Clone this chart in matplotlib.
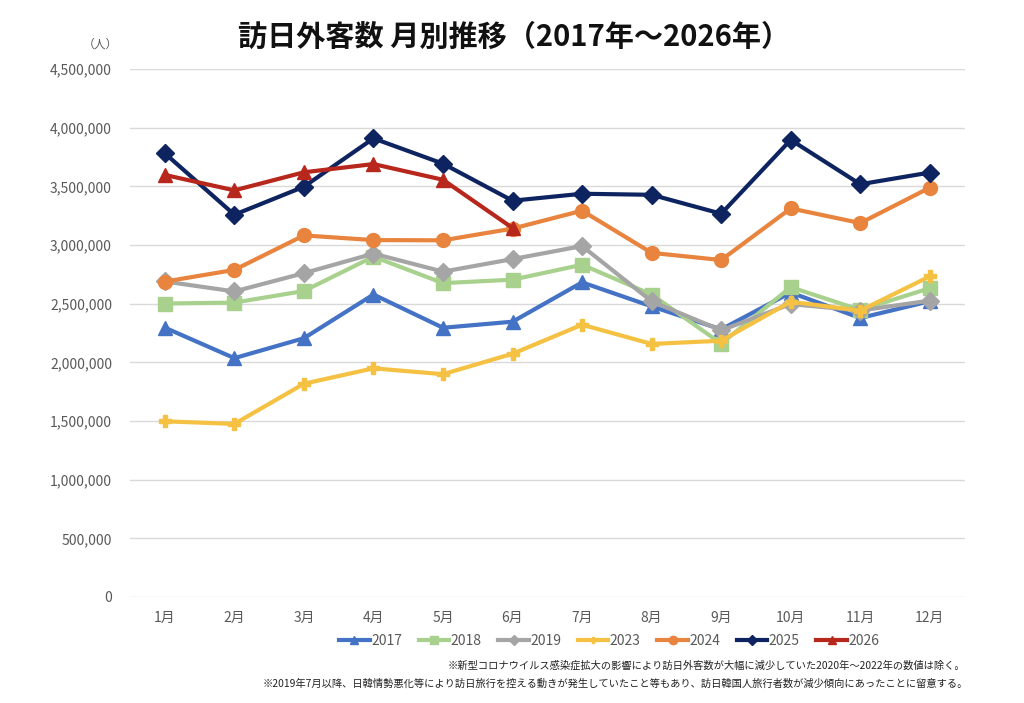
import matplotlib
matplotlib.use("Agg")
import matplotlib.pyplot as plt
from matplotlib.ticker import FuncFormatter, MultipleLocator

plt.rcParams['font.family'] = ['Noto Sans CJK JP', 'DejaVu Sans']

months = ["1月", "2月", "3月", "4月", "5月", "6月",
          "7月", "8月", "9月", "10月", "11月", "12月"]

v2017 = [2295700, 2035800, 2205700, 2578000, 2294700, 2346400,
         2681600, 2477100, 2280900, 2595100, 2377900, 2521000]
v2018 = [2501400, 2509300, 2608000, 2900700, 2675100, 2704600,
         2832000, 2578000, 2159600, 2640600, 2446700, 2632000]
v2019 = [2689300, 2604300, 2760100, 2926700, 2773100, 2880000,
         2991200, 2520100, 2272900, 2496600, 2441300, 2526400]
v2023 = [1497300, 1475300, 1817500, 1949100, 1898900, 2073300,
         2320600, 2156900, 2184300, 2516500, 2440800, 2733000]
v2024 = [2688100, 2788000, 3081800, 3042000, 3040000, 3140000,
         3292500, 2933000, 2872200, 3312200, 3187000, 3489000]
v2025 = [3781600, 3258400, 3497000, 3908900, 3693300, 3377800,
         3437000, 3428000, 3266800, 3896300, 3518000, 3617700]
v2026 = [3597500, 3466000, 3620000, 3690000, 3556000, 3145000]

series = [
    ("2017", v2017, "#4472C4", "^"),
    ("2018", v2018, "#A9D18E", "s"),
    ("2019", v2019, "#A5A5A5", "D"),
    ("2023", v2023, "#F4C142", "P"),
    ("2024", v2024, "#E8843D", "o"),
    ("2025", v2025, "#0E2461", "D"),
    ("2026", v2026, "#B8271C", "^"),
]

fig = plt.figure(figsize=(10.24, 7.03), dpi=100)
ax = fig.add_axes([0.127, 0.1508, 0.815, 0.751])

x = range(len(months))
for name, vals, col, mk in series:
    ms = 10 if mk in ("o", "s", "^") else 9
    if mk == "P":
        ms = 8
    ax.plot(list(x)[:len(vals)], vals, color=col, lw=3, marker=mk,
            ms=ms, mec=col, mfc=col, label=name)

ax.set_xlim(-0.5, 11.5)
ax.set_ylim(0, 4500000)
ax.yaxis.set_major_locator(MultipleLocator(500000))
ax.yaxis.set_major_formatter(FuncFormatter(lambda v, _: f"{int(v):,}"))
ax.set_xticks(list(x))
ax.set_xticklabels(months)
ax.grid(axis="y", color="#d9d9d9", lw=1)
ax.set_axisbelow(True)
for s in ax.spines.values():
    s.set_visible(False)
ax.tick_params(length=0, colors="#595959", labelsize=10, pad=10)
ax.tick_params(axis="y", pad=13)

fig.text(0.502, 0.947, "訪日外客数 月別推移（2017年～2026年）", ha="center",
         va="center", fontsize=21, fontweight="bold", color="#111111")
fig.text(0.098, 0.937, "（人）", ha="center", va="center", fontsize=8.5,
         color="#595959")

leg = fig.legend(loc="center", bbox_to_anchor=(0.595, 0.088), ncol=7,
                 frameon=False, fontsize=10, handlelength=2.2,
                 columnspacing=1.2, handletextpad=0.1, markerscale=0.6)
for t in leg.get_texts():
    t.set_color("#595959")

fig.text(0.943, 0.053, "※新型コロナウイルス感染症拡大の影響により訪日外客数が大幅に減少していた2020年～2022年の数値は除く。",
         ha="right", va="center", fontsize=7.4, color="#222222")
fig.text(0.945, 0.028, "※2019年7月以降、日韓情勢悪化等により訪日旅行を控える動きが発生していたこと等もあり、訪日韓国人旅行者数が減少傾向にあったことに留意する。",
         ha="right", va="center", fontsize=7.4, color="#222222")

fig.savefig("out.png", dpi=100, facecolor="white")
